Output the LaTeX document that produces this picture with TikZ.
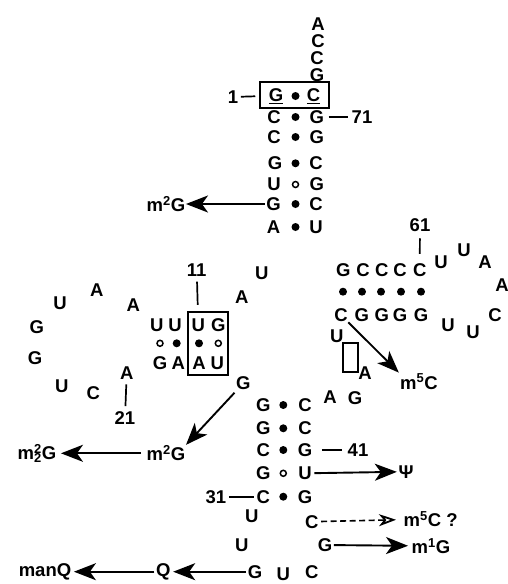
\documentclass[tikz,border=0pt]{standalone}
\usepackage{fontspec}
\setmainfont{Liberation Sans}
\usetikzlibrary{arrows.meta}
\newcommand\ntsize{\fontsize{18.5}{18.5}\selectfont\bfseries}
\newcommand\supsubx[2]{\rlap{\textsuperscript{#1}}\textsubscript{#2}}
\tikzset{
  nt/.style={font=\ntsize, inner sep=0.5pt},
  bp/.style={circle, fill=black, inner sep=0pt, minimum size=8pt},
  gu/.style={circle, draw=black, line width=1.5pt, inner sep=0pt, minimum size=6pt},
  boxr/.style={draw=black, line width=1.7pt, inner sep=0pt},
  tick/.style={line width=1.7pt},
  arr/.style={line width=1.9pt, -{Stealth[length=22pt,width=17pt,inset=6pt]}},
  darr/.style={line width=1.6pt, dash pattern=on 6pt off 3.5pt, -{Stealth[open,length=17pt,width=12pt,inset=5pt,line width=1.8pt]}},
}
\begin{document}
\begin{tikzpicture}[x=1pt,y=-1pt]
\useasboundingbox (0,0) rectangle (508,584);
% acceptor end
\node[nt] (a76) at (318,24) {A};
\node[nt] (c75) at (318,41) {C};
\node[nt] (c74) at (317,58) {C};
\node[nt] (g73) at (317,75) {G};
% acceptor stem
\node[boxr, minimum width=69pt, minimum height=26.5pt] (boxA) at (294.6,95) {};
\node[nt] (g1) at (276,96.5) {\underline{G}};
\node[bp] (p1) at (295.5,96) {};
\node[nt] (c72) at (313.5,96.5) {\underline{C}};
\node[nt] (l1) at (233,97) {1};
\draw[tick, shorten <=2pt, shorten >=4pt] (l1) -- (boxA);
\node[nt] (c2) at (274,117) {C};
\node[bp] (p2) at (295.5,117) {};
\node[nt] (g71) at (316.7,117) {G};
\node[nt] (l71) at (362,117) {71};
\draw[tick, shorten <=4pt, shorten >=3pt] (g71) -- (l71);
\node[nt] (c3) at (274,137) {C};
\node[bp] (p3) at (295.5,137) {};
\node[nt] (g70) at (316.7,137) {G};
\node[nt] (g4) at (275,163.3) {G};
\node[bp] (p4) at (295.5,163.3) {};
\node[nt] (c69) at (316,163.3) {C};
\node[nt] (u5) at (274,184.5) {U};
\node[gu] (p5) at (295.5,184.5) {};
\node[nt] (g68) at (316.7,184.5) {G};
\node[nt] (g6) at (273.5,204) {G};
\node[bp] (p6) at (295.5,204) {};
\node[nt] (c67) at (316,204) {C};
\node[nt] (a7) at (273.5,227) {A};
\node[bp] (p7) at (295.5,227) {};
\node[nt] (u66) at (316,227) {U};
\node[nt] (m2gA) at (166,204) {m\textsuperscript{2}G};
\draw[arr, shorten <=1pt] (g6) -- (m2gA);
% connector
\node[nt] (u8) at (261.7,273) {U};
\node[nt] (a9) at (241.7,296.7) {A};
% D stem
\node[boxr, minimum width=40.6pt, minimum height=63.3pt] (boxD) at (208,343.3) {};
\node[nt] (u13) at (156.7,325) {U};
\node[nt] (u12) at (175,325) {U};
\node[nt] (u11) at (198.3,325) {U};
\node[nt] (g10) at (218.3,325) {G};
\node[gu] (q13) at (160,343.3) {};
\node[bp] (q12) at (176.7,343.3) {};
\node[bp] (q11) at (199,343.3) {};
\node[gu] (q10) at (218.3,343.3) {};
\node[nt] (g22) at (160,363.3) {G};
\node[nt] (a23) at (178.3,363.3) {A};
\node[nt] (a24) at (199,363.3) {A};
\node[nt] (u25) at (217.3,363.3) {U};
\node[nt] (l11) at (196.7,270) {11};
\draw[tick, shorten <=4.5pt, shorten >=13pt] (l11) -- (u11);
% D loop
\node[nt] (a14) at (133.3,305) {A};
\node[nt] (a15) at (96.7,290) {A};
\node[nt] (u16) at (60,303.3) {U};
\node[nt] (g17) at (36.7,326.7) {G};
\node[nt] (g18) at (35,358.3) {G};
\node[nt] (u19) at (61.7,386.7) {U};
\node[nt] (c20) at (93.3,393.3) {C};
\node[nt] (a21) at (126.7,373.3) {A};
\node[nt] (l21) at (125,418.3) {21};
\draw[tick, shorten <=4pt, shorten >=5pt] (a21) -- (l21);
% G26
\node[nt] (g26) at (243.3,383.3) {G};
% anticodon stem
\node[nt] (g27) at (263.3,405) {G};
\node[bp] (s1) at (283.3,405) {};
\node[nt] (c43) at (305,405) {C};
\node[nt] (g28) at (263.3,428.3) {G};
\node[bp] (s2) at (283.3,428.3) {};
\node[nt] (c42) at (305,428.3) {C};
\node[nt] (c29) at (263.3,450) {C};
\node[bp] (s3) at (283.3,450) {};
\node[nt] (g41) at (305,450) {G};
\node[nt] (l41) at (358,450) {41};
\draw[tick, shorten <=9pt, shorten >=5pt] (g41) -- (l41);
\node[nt] (g30) at (263.3,473.3) {G};
\node[gu] (s4) at (283.3,473.3) {};
\node[nt] (u40) at (305,473.3) {U};
\node[nt] (c31) at (263.3,496.7) {C};
\node[bp] (s5) at (283.3,496.7) {};
\node[nt] (g39) at (305,496.7) {G};
\node[nt] (l31) at (216,496.7) {31};
\draw[tick, shorten <=2pt, shorten >=2pt] (l31) -- (c31);
% anticodon loop
\node[nt] (u32) at (251.7,516.7) {U};
\node[nt] (u33) at (241.7,545) {U};
\node[nt] (g34) at (255,571.7) {G};
\node[nt] (u35) at (283.3,574.5) {U};
\node[nt] (c36) at (311.7,571.7) {C};
\node[nt] (g37) at (325,545) {G};
\node[nt] (c38) at (311.7,521.7) {C};
% variable loop
\node[nt] (a44) at (330,396.7) {A};
\node[nt] (g45) at (355,398) {G};
\node[nt] (u47) at (336.7,336.7) {U};
\node[boxr, minimum width=15.6pt, minimum height=28.4pt] (boxV) at (350.5,357.5) {};
\node[nt] (a48) at (365,373) {A};
% T stem
\node[nt] (g53) at (343.3,270) {G};
\node[nt] (c54) at (363,270) {C};
\node[nt] (c55) at (381.7,270) {C};
\node[nt] (c56) at (400,270) {C};
\node[nt] (c61) at (419.7,270) {C};
\node[bp] (t1) at (343,291.7) {};
\node[bp] (t2) at (362,291.7) {};
\node[bp] (t3) at (381,291.7) {};
\node[bp] (t4) at (401,291.7) {};
\node[bp] (t5) at (421,291.7) {};
\node[nt] (c49) at (341,315) {C};
\node[nt] (g50) at (361.7,315) {G};
\node[nt] (g51) at (381.7,315) {G};
\node[nt] (g52) at (400,315) {G};
\node[nt] (g65) at (421,315) {G};
\node[nt] (l61) at (420,225) {61};
\draw[tick, shorten <=6pt, shorten >=9pt] (l61) -- (c61);
% T loop
\node[nt] (u62) at (441,262) {U};
\node[nt] (u63) at (464,250) {U};
\node[nt] (a64) at (485,262) {A};
\node[nt] (a64b) at (502,285) {A};
\node[nt] (c64) at (495,315) {C};
\node[nt] (u64) at (473,332) {U};
\node[nt] (u64b) at (448,325) {U};
% modifications
\node[nt] (m5cA) at (419,381.7) {m\textsuperscript{5}C};
\draw[arr, shorten <=0pt, shorten >=1pt] (c49) -- (m5cA.north west);
\node[nt] (m2gB) at (166,453.3) {m\textsuperscript{2}G};
\draw[arr, shorten <=3pt] (g26) -- (m2gB.north east);
\node[nt] (m22g) at (37,453.3) {m\supsubx{2}{2}G};
\draw[arr, shorten <=5pt, shorten >=4pt] (m2gB) -- (m22g);
\node[nt] (psi) at (406,471.7) {Ψ};
\draw[arr, shorten <=2pt, shorten >=1pt] (u40) -- (psi);
\node[nt, anchor=west] (m5cq) at (403,519) {m\textsuperscript{5}C ?};
\draw[darr, shorten <=2pt, shorten >=7pt] (c38) -- (m5cq);
\node[nt] (m1g) at (431,546) {m\textsuperscript{1}G};
\draw[arr, shorten <=1pt, shorten >=3pt] (g37) -- (m1g);
\node[nt] (q) at (163.3,571.7) {Q};
\draw[arr, shorten <=1pt, shorten >=2pt] (g34) -- (q);
\node[nt] (manq) at (45,571.7) {manQ};
\draw[arr, shorten <=1pt, shorten >=2pt] (q) -- (manq);
\end{tikzpicture}
\end{document}
